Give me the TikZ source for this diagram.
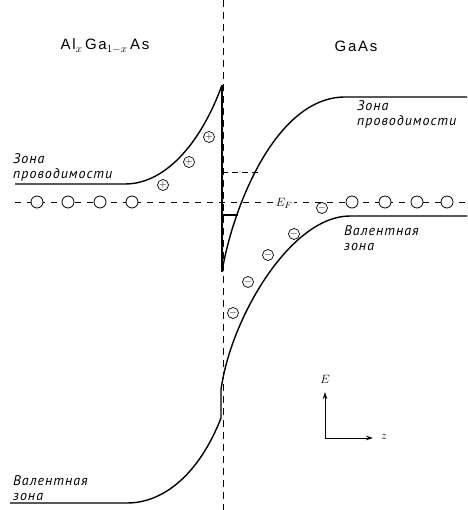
\documentclass[tikz,border=0pt]{standalone}
\usepackage{fontspec}
\setmainfont{Liberation Sans}
\newfontfamily\headfont[LetterSpace=12]{Liberation Sans}
\newfontfamily\zfont[LetterSpace=7]{PT Sans Italic}
\usetikzlibrary{arrows.meta}
\begin{document}
\begin{tikzpicture}[x=1pt,y=-1pt,
  band/.style={line width=1.4pt, line join=round},
  thin line/.style={line width=0.9pt},
  junction/.style={line width=0.8pt, dash pattern=on 7pt off 5pt},
  fermi/.style={line width=0.8pt, dash pattern=on 6pt off 6pt},
  hole/.style={circle, draw, line width=0.8pt, fill=white, minimum size=12pt, inner sep=0pt},
  chg/.style={circle, draw, line width=0.7pt, fill=white, minimum size=11pt, inner sep=0pt, font=\fontsize{10}{10}\selectfont},
  head/.style={font=\headfont\fontsize{15}{17}\selectfont},
  zlab/.style={font=\zfont\fontsize{14}{15}\selectfont, align=left, anchor=west, inner sep=0pt}
]
\useasboundingbox (0,0) rectangle (467,510);
% junction plane
\draw[junction] (223,0) -- (223,510);
% Fermi level
\draw[fermi] (15,202) -- (467,202);
% conduction band, AlGaAs side
\draw[band] (15,184) -- (125,184) .. controls (168,184) and (203,138) .. (222,85);
% spike
\draw[band, line width=1.7pt] (222,85) -- (222,272);
% conduction band, GaAs side
\draw[band] (222,272) .. controls (232,210) and (275,97) .. (345,97) -- (467,97);
% subband levels
\draw[thin line, dash pattern=on 6pt off 4pt] (222,172) -- (258,172);
\draw[thin line, line width=1.1pt] (222,215) -- (238,215);
% valence band
\draw[band] (467,216) -- (350,216) .. controls (290,216) and (230,320) .. (221,390) -- (221,418)
  .. controls (200,472) and (165,503) .. (127,503) -- (10,503);
% empty states on Fermi level
\foreach \x/\n in {37/h1,68/h2,100/h3,132/h4,352/h5,385/h6,417/h7,447/h8}
  \node[hole] (\n) at (\x,202) {};
% ionised donors
\node[chg] (p1) at (163,185) {$+$};
\node[chg] (p2) at (189,162) {$+$};
\node[chg] (p3) at (209,137) {$+$};
% electrons
\node[chg] (m1) at (322,208) {$-$};
\node[chg] (m2) at (294,234) {$-$};
\node[chg] (m3) at (268,255) {$-$};
\node[chg] (m4) at (248,282) {$-$};
\node[chg] (m5) at (233,313) {$-$};
% E_F
\node[fill=white, inner sep=1.5pt, font=\fontsize{13}{13}\selectfont] (ef) at (284,203) {$E_F$};
% headings
\node[head] (alg) at (105,46) {Al$_x$\,Ga$_{1-x}$\,As};
\node[head] (gaas) at (356,46) {GaAs};
% band labels
\node[zlab] (cbr) at (357,114) {Зона\\проводимости};
\node[zlab] (cbl) at (13,167) {Зона\\проводимости};
\node[zlab] (vbr) at (344,238) {Валентная\\зона};
\node[zlab] (vbl) at (13,488) {Валентная\\зона};
% axes
\coordinate (o) at (325,438);
\coordinate (ey) at (325,392);
\coordinate (ez) at (373,438);
\draw[thin line, -{Stealth[length=7pt,width=4.5pt]}] (o) -- (ey);
\draw[thin line, -{Stealth[length=7pt,width=4.5pt]}] (o) -- (ez);
\node[font=\fontsize{13}{13}\selectfont] (elab) at (325,379) {$E$};
\node[font=\fontsize{12}{12}\selectfont] (zlabel) at (384,437) {$z$};
\end{tikzpicture}
\end{document}
